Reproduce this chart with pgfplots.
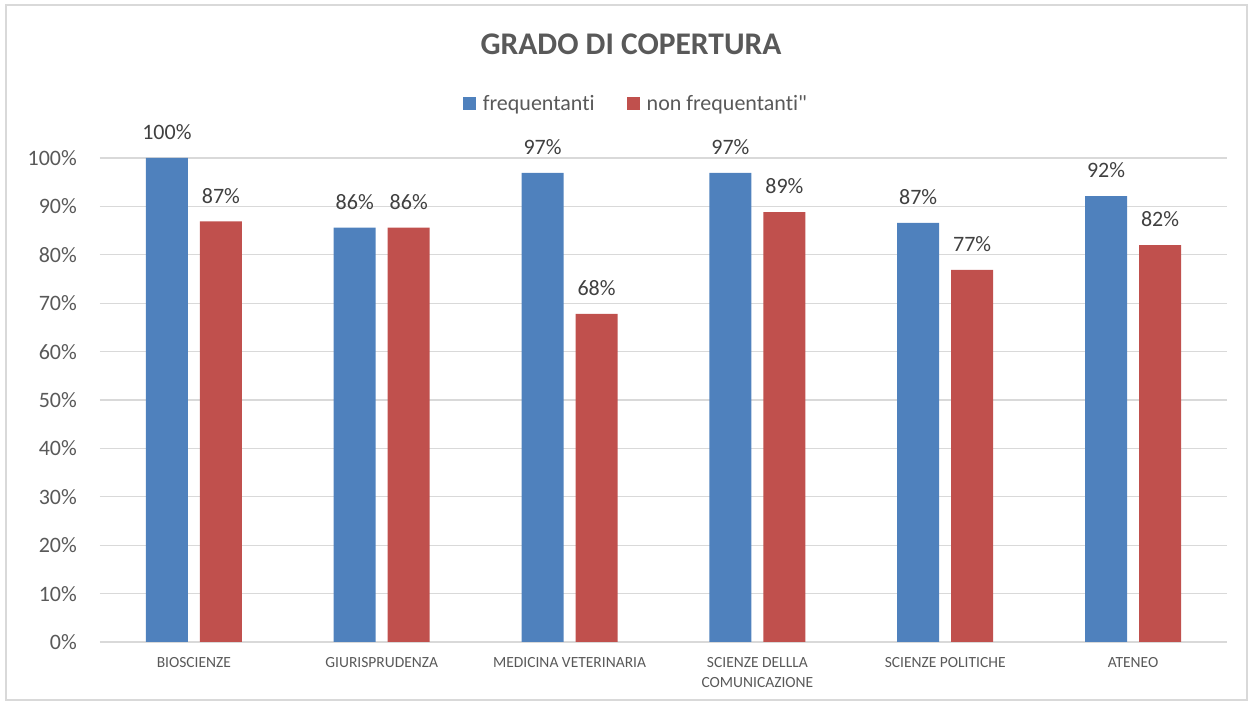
\documentclass[border=0pt]{standalone}
\usepackage{pgfplots}
\pgfplotsset{compat=1.18}
\usepackage{fontspec}
\setmainfont{Carlito}[Ligatures={NoCommon,TeXOff}]
\definecolor{cblue}{HTML}{4F81BD}
\definecolor{cred}{HTML}{C0504D}
\definecolor{txt}{HTML}{595959}
\definecolor{lab}{HTML}{404040}
\definecolor{gridc}{HTML}{D9D9D9}
\begin{document}
\begin{tikzpicture}[x=1pt,y=1pt]
\path (0,0) rectangle (1253,704);
\draw[gridc, line width=1.3pt] (6,4) rectangle (1247,699);
\node[anchor=base, font=\fontsize{31.5}{36}\selectfont\bfseries, text=txt, inner sep=0pt] at (631,649) {GRADO DI COPERTURA};
\begin{axis}[
  at={(100pt,62pt)}, anchor=south west,
  scale only axis, width=1127pt, height=484pt,
  ymin=0, ymax=100, xmin=-0.5, xmax=5.5,
  ybar=12pt, bar width=42pt,
  separate axis lines,
  axis x line*=bottom, axis y line*=left,
  x axis line style={draw=gridc, line width=1.3pt, -},
  y axis line style={draw=none},
  major tick length=0pt,
  ytick={0,10,...,100},
  ymajorgrids, grid style={draw=gridc, line width=1.3pt},
  xtick={0,1,2,3,4,5},
  xticklabels={BIOSCIENZE, GIURISPRUDENZA, MEDICINA VETERINARIA, {SCIENZE DELLLA\\COMUNICAZIONE}, SCIENZE POLITICHE, ATENEO},
  xticklabel style={align=center, font=\fontsize{15.5}{20}\selectfont, text=txt, inner sep=0pt, anchor=north, yshift=-15pt},
  /pgf/number format/assume math mode=true,
  yticklabel={\pgfmathprintnumber{\tick}\%},
  yticklabel style={font=\fontsize{22}{26}\selectfont, text=txt, inner sep=0pt, anchor=east, xshift=-23pt},
  nodes near coords={\pgfmathprintnumber[fixed,precision=0]{\pgfplotspointmeta}\%},
  nodes near coords style={font=\fontsize{22}{26}\selectfont, text=lab, anchor=south, inner sep=0pt, yshift=18pt},
  clip=false,
  legend style={at={(0.4756,1.1116)}, anchor=center, draw=none, fill=none, font=\fontsize{22}{26}\selectfont, text=txt,
    /tikz/every odd column/.append style={column sep=5pt},
    /tikz/every even column/.append style={column sep=30pt}},
  legend columns=2,
  legend image code/.code={\fill[#1] (0pt,-6.5pt) rectangle (13pt,6.5pt);},
]
\addplot[fill=cblue, draw=none] coordinates {(0,100) (1,85.6) (2,96.9) (3,96.9) (4,86.6) (5,92.1)};
\addplot[fill=cred, draw=none] coordinates {(0,86.9) (1,85.6) (2,67.8) (3,88.8) (4,76.9) (5,82.0)};
\legend{frequentanti, non frequentanti"}
\end{axis}
\end{tikzpicture}
\end{document}
